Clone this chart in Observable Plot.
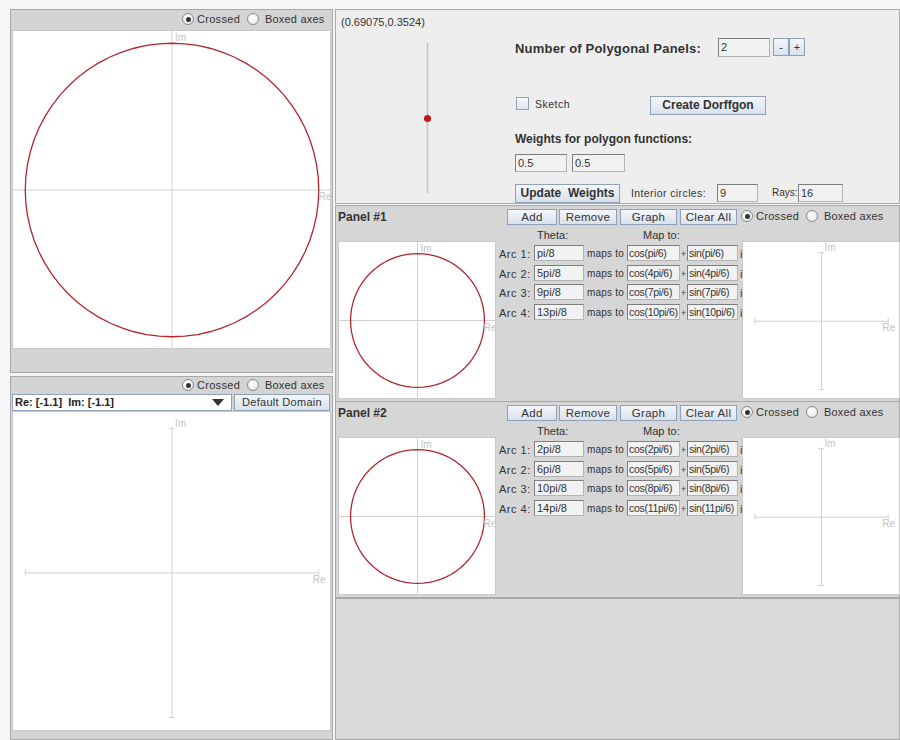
<!DOCTYPE html>
<html><head><meta charset="utf-8">
<script src="https://cdn.jsdelivr.net/npm/d3@7"></script>
<script src="https://cdn.jsdelivr.net/npm/@observablehq/plot@0.6"></script>
<style>
html,body{margin:0;padding:0;background:#f6f6f6;}
#root{position:relative;width:900px;height:740px;overflow:hidden;font-family:"Liberation Sans",Arial,sans-serif;font-size:11px;color:#333;}
.abs{position:absolute;box-sizing:border-box;}
.frame{border:1px solid #a9a9a9;}
.radio{position:absolute;width:12px;height:12px;border-radius:50%;border:1px solid #8a8a8a;background:radial-gradient(circle at 40% 35%,#ffffff,#dfe3e8);box-sizing:border-box;}
.radio.on::after{content:"";position:absolute;left:2.5px;top:2.5px;width:5px;height:5px;border-radius:50%;background:#333;}
.lbl{position:absolute;white-space:pre;line-height:1;}
.btn{position:absolute;box-sizing:border-box;border:1px solid #8ea1b8;background:linear-gradient(#f4f7fb,#d9e1ec);text-align:center;white-space:pre;color:#333;}
.field{position:absolute;box-sizing:border-box;background:#f2f2f2;border:1px solid #b4b4b4;border-top-color:#7d7d7d;border-left-color:#7d7d7d;white-space:nowrap;overflow:hidden;padding-left:2px;color:#333;}
.field.small{font-size:10.5px;letter-spacing:-0.3px;padding-left:1px;}
.plotbox{position:absolute;background:#fff;border:1px solid #c9c9c9;box-sizing:border-box;overflow:hidden;}
.plotbox svg{display:block;}
</style></head>
<body><div id="root"></div>
<script>
// ---------- data ----------
const coordText = "(0.69075,0.3524)";
const numPanels = "2";
const weights = ["0.5", "0.5"];
const interiorCircles = "9";
const rays = "16";
const sliderValue = [0.5];
const domainText = "Re: [-1.1]  Im: [-1.1]";
const arcLabels = ["Arc 1:", "Arc 2:", "Arc 3:", "Arc 4:"];
const panel1Theta = ["pi/8", "5pi/8", "9pi/8", "13pi/8"];
const panel1Cos = ["cos(pi/6)", "cos(4pi/6)", "cos(7pi/6)", "cos(10pi/6)"];
const panel1Sin = ["sin(pi/6)", "sin(4pi/6)", "sin(7pi/6)", "sin(10pi/6)"];
const panel2Theta = ["2pi/8", "6pi/8", "10pi/8", "14pi/8"];
const panel2Cos = ["cos(2pi/6)", "cos(5pi/6)", "cos(8pi/6)", "cos(11pi/6)"];
const panel2Sin = ["sin(2pi/6)", "sin(5pi/6)", "sin(8pi/6)", "sin(11pi/6)"];
const panelButtons = ["Add", "Remove", "Graph", "Clear All"];
const circleRadius = 1;
const axisEnds = [-1, 1];

const root = document.getElementById("root");
function el(cls, css, text) {
  const d = document.createElement("div");
  d.className = cls;
  Object.assign(d.style, css);
  if (text != null) d.textContent = text;
  root.appendChild(d);
  return d;
}
const px = v => v + "px";
function box(l, t, w, h, bg, cls = "abs frame") { return el(cls, {left: px(l), top: px(t), width: px(w), height: px(h), background: bg}); }
function label(x, y, text, css = {}) { return el("lbl", Object.assign({left: px(x), top: px(y)}, css), text); }
function radio(x, y, on) { return el("radio" + (on ? " on" : ""), {left: px(x), top: px(y)}); }
function button(l, t, w, h, text, css = {}) { return el("btn", Object.assign({left: px(l), top: px(t), width: px(w), height: px(h), lineHeight: px(h - 2)}, css), text); }
function field(l, t, w, h, text, small) { return el("field" + (small ? " small" : ""), {left: px(l), top: px(t), width: px(w), height: px(h), lineHeight: px(h - 2)}, text); }
function radios(x, y) {
  radio(x, y, true); label(x + 15, y + 1, "Crossed", {letterSpacing: "0.3px"});
  radio(x + 65, y, false); label(x + 83, y + 1, "Boxed axes", {letterSpacing: "0.2px"});
}

// ---------- plane plots ----------
const circlePts = d3.range(0, 361, 5).map(a => ({re: circleRadius * Math.cos(a * Math.PI / 180), im: circleRadius * Math.sin(a * Math.PI / 180)}));
const axisColor = "#d0d0d0", labelColor = "#c4c4c4", red = "#b3262c";
function plane({w, h, xd, yd, circle, full, fs = 10}) {
  const marks = [];
  if (full) {
    marks.push(Plot.ruleX([0], {stroke: axisColor}));
    marks.push(Plot.ruleY([0], {stroke: axisColor}));
  } else {
    marks.push(Plot.ruleX([0], {y1: axisEnds[0], y2: axisEnds[1], stroke: axisColor}));
    marks.push(Plot.ruleY([0], {x1: axisEnds[0], x2: axisEnds[1], stroke: axisColor}));
    const c = (xd[1] - xd[0]) * 3 / w, cy = (yd[1] - yd[0]) * 3 / h;
    marks.push(Plot.ruleY(axisEnds, {x1: -c, x2: c, stroke: axisColor}));
    marks.push(Plot.ruleX(axisEnds, {y1: -cy, y2: cy, stroke: axisColor}));
  }
  if (circle) marks.push(Plot.line(circlePts, {x: "re", y: "im", stroke: red, strokeWidth: 1.3}));
  const imY = full ? yd[1] : axisEnds[1];
  const reX = full ? xd[1] : axisEnds[1];
  marks.push(Plot.text(["Im"], {x: 0, y: imY, text: d => d, dx: 3, dy: full ? 6 : -5, textAnchor: "start", fill: labelColor, fontSize: fs}));
  marks.push(Plot.text(["Re"], {x: reX, y: 0, text: d => d, dx: full ? -12 : -6, dy: 7, textAnchor: "start", fill: labelColor, fontSize: fs}));
  return Plot.plot({width: w, height: h, margin: 0, x: {domain: xd, axis: null}, y: {domain: yd, axis: null},
    style: {background: "white", fontFamily: "Liberation Sans, sans-serif", overflow: "visible"}, marks});
}
function placePlot(l, t, w, h, opts) {
  const b = el("plotbox", {left: px(l), top: px(t), width: px(w), height: px(h)});
  b.appendChild(plane(Object.assign({w: w - 2, h: h - 2}, opts)));
}

// ---------- left column ----------
box(10, 9, 323, 364, "#d4d4d4");
radios(182, 13);
placePlot(12, 30, 319, 319, {xd: [-1.08, 1.08], yd: [-1.08, 1.08], circle: true, full: true});

box(10, 376, 323, 364, "#d4d4d4");
radios(182, 379);
el("abs", {left: "12px", top: "394px", width: "220px", height: "17px", background: "#fff", border: "1px solid #8ea1b8"});
label(15, 397, domainText, {fontWeight: "bold", color: "#222"});
el("abs", {left: "212px", top: "399px", width: "0", height: "0", borderLeft: "6px solid transparent", borderRight: "6px solid transparent", borderTop: "7px solid #333"});
button(234, 394, 96, 17, "Default Domain", {letterSpacing: "0.3px"});
placePlot(12, 411, 319, 320, {xd: [-1.08, 1.08], yd: [-1.09, 1.11], circle: false, full: false});

// ---------- top control panel ----------
box(335, 9, 565, 195, "#eeeeee");
label(341, 17, coordText, {color: "#333"});
const slider = Plot.plot({width: 20, height: 150, margin: 0, x: {domain: [-1, 1], axis: null}, y: {domain: [0, 1], axis: null},
  style: {background: "transparent", overflow: "visible"},
  marks: [Plot.ruleX([0], {y1: 0, y2: 1, stroke: "#c2c2c2", strokeWidth: 1.5}), Plot.dot(sliderValue, {x: 0, y: d => d, r: 3.5, fill: "#cc1111", stroke: "none"})]});
const sw = el("abs", {left: "417px", top: "43px"}); sw.appendChild(slider);
label(515, 42, "Number of Polygonal Panels:", {fontWeight: "bold", fontSize: "13px", color: "#333", letterSpacing: "0.2px"});
field(718, 38, 52, 19, numPanels);
button(773, 38, 16, 18, "-"); button(789, 38, 16, 18, "+");
el("abs", {left: "516px", top: "97px", width: "13px", height: "13px", border: "1px solid #8ea1b8", background: "linear-gradient(#f7f9fc,#dde4ee)"});
label(535, 99, "Sketch", {letterSpacing: "0.5px", fontSize: "10.5px"});
button(650, 96, 116, 19, "Create Dorffgon", {fontWeight: "bold", fontSize: "12px"});
label(515, 133, "Weights for polygon functions:", {fontWeight: "bold", fontSize: "12px", color: "#333"});
field(515, 154, 52, 18, weights[0]);
field(572, 154, 53, 18, weights[1]);
button(515, 184, 105, 19, "Update  Weights", {fontWeight: "bold", fontSize: "12px"});
label(631, 188, "Interior circles:", {letterSpacing: "0.4px", fontSize: "10.5px"});
field(717, 184, 41, 18, interiorCircles);
label(772, 188, "Rays:", {fontSize: "10px"});
field(798, 184, 45, 18, rays);

// ---------- polygon panels ----------
function panel(top, title, thetas, coss, sins) {
  box(335, top, 565, 197, "#d6d6d6");
  label(338, top + 6, title, {fontWeight: "bold", fontSize: "12px", color: "#333"});
  const bx = [507, 559, 620, 680], bw = [50, 58, 57, 57];
  panelButtons.forEach((t, i) => button(bx[i], top + 4, bw[i], 16, t, {fontSize: "11.5px", letterSpacing: "0.3px"}));
  radios(741, top + 5);
  label(537, top + 25, "Theta:");
  label(643, top + 25, "Map to:");
  placePlot(338, top + 36, 158, 158, {xd: [-1.165, 1.165], yd: [-1.165, 1.165], circle: true, full: true});
  placePlot(742, top + 36, 158, 158, {xd: [-1.17, 1.17], yd: [-1.13, 1.15], circle: false, full: false});
  arcLabels.forEach((a, i) => {
    const y = top + 40 + i * 19.5;
    label(499, y + 4, a, {letterSpacing: "0.5px"});
    field(534, y, 50, 16, thetas[i]);
    label(587, y + 4, "maps to", {letterSpacing: "0.2px", fontSize: "10px"});
    field(627, y, 53, 16, coss[i], true);
    label(681, y + 5, "+", {fontSize: "8.5px"});
    field(687, y, 51, 16, sins[i], true);
    label(740, y + 4, "i");
  });
}
panel(205, "Panel #1", panel1Theta, panel1Cos, panel1Sin);
panel(401, "Panel #2", panel2Theta, panel2Cos, panel2Sin);
box(335, 598, 565, 142, "#d9d9d9");
</script>
</body></html>
